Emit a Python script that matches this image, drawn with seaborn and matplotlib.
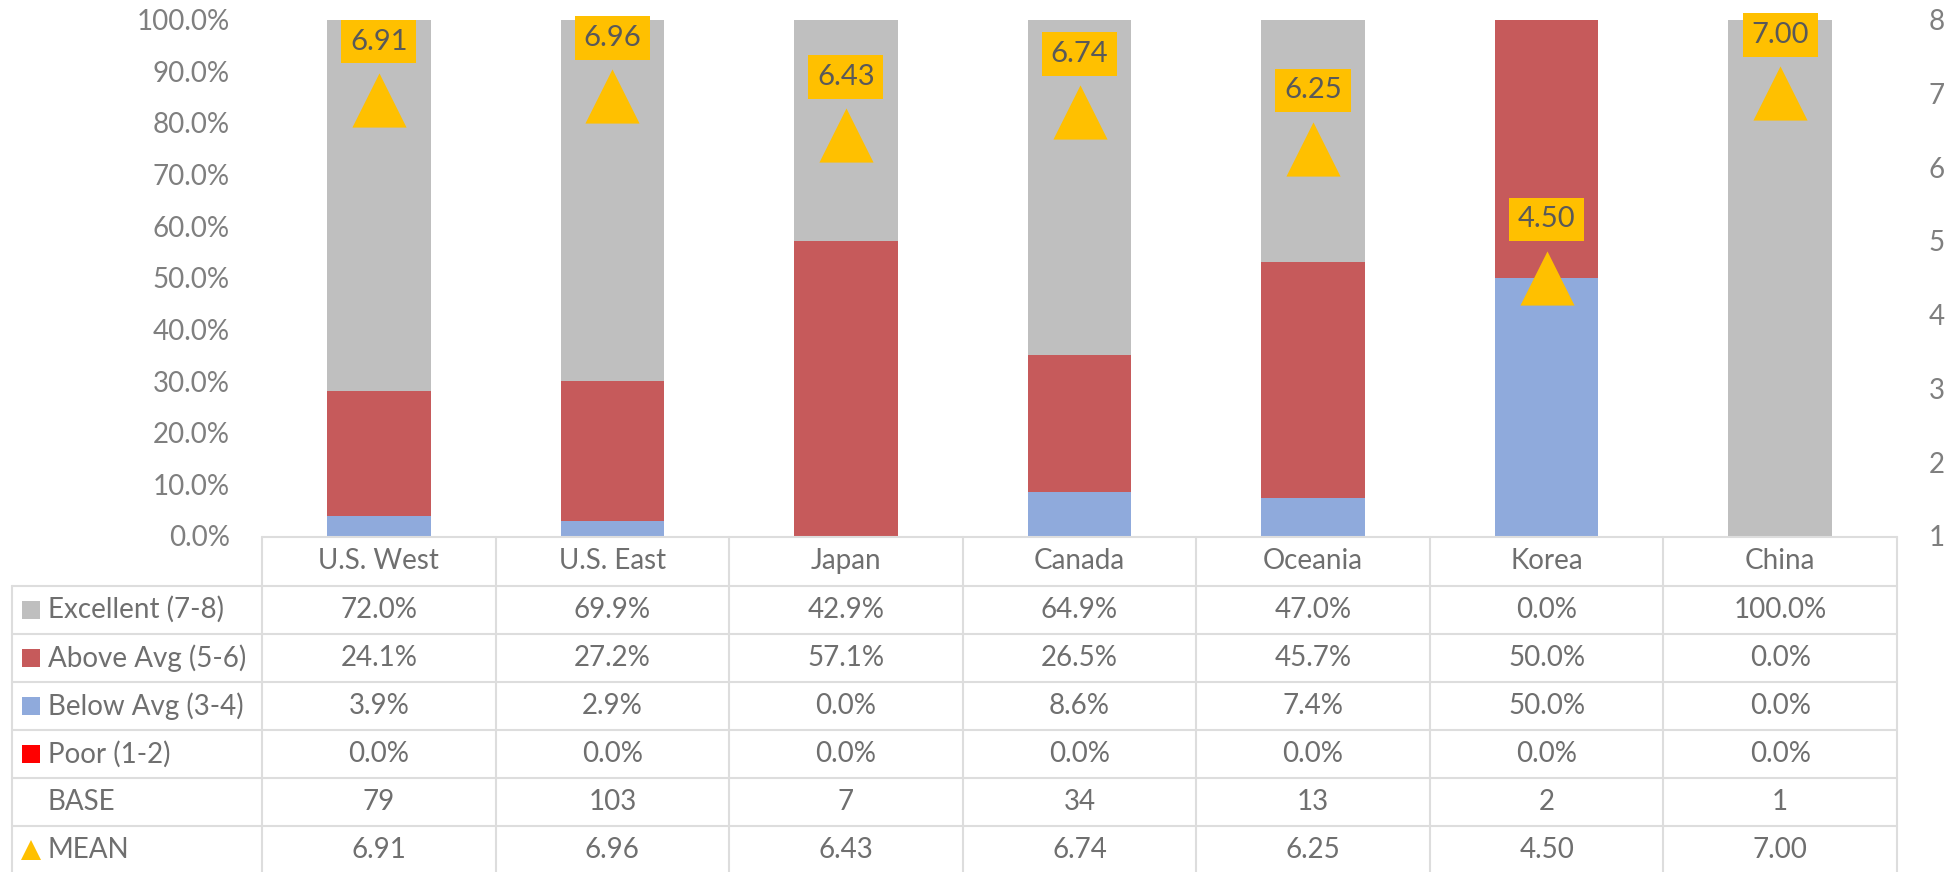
"""
Stacked rating distribution by region with mean markers and a data table.
"""

import numpy as np
import pandas as pd
import seaborn as sns
import matplotlib.pyplot as plt
from matplotlib.patches import Rectangle

REGIONS = ["U.S. West", "U.S. East", "Japan", "Canada", "Oceania", "Korea", "China"]

EXCELLENT = [72.0, 69.9, 42.9, 64.9, 47.0, 0.0, 100.0]
ABOVE_AVG = [24.1, 27.2, 57.1, 26.5, 45.7, 50.0, 0.0]
BELOW_AVG = [3.9, 2.9, 0.0, 8.6, 7.4, 50.0, 0.0]
POOR = [0.0, 0.0, 0.0, 0.0, 0.0, 0.0, 0.0]
BASE = [79, 103, 7, 34, 13, 2, 1]
MEAN = [6.91, 6.96, 6.43, 6.74, 6.25, 4.50, 7.00]

SERIES_LABELS = ["Excellent (7-8)", "Above Avg (5-6)", "Below Avg (3-4)", "Poor (1-2)"]
SERIES_COLORS = ["#BFBFBF", "#C65A5B", "#8FAADC", "#FF0000"]
MEAN_COLOR = "#FFC000"

TICK_GRAY = "#7F7F7F"
TEXT_GRAY = "#6F6F6F"
LINE_GRAY = "#DDDDDD"

W, H = 1954, 872
AX_LEFT, AX_RIGHT, AX_TOP, AX_BOTTOM = 262, 1897, 19.5, 536


def draw_chart() -> None:
    sns.set_style("white")
    plt.rcParams["font.family"] = ["Lato", "DejaVu Sans"]

    fig = plt.figure(figsize=(W / 100, H / 100), dpi=100)
    ax = fig.add_axes([AX_LEFT / W, 1 - AX_BOTTOM / H,
                       (AX_RIGHT - AX_LEFT) / W, (AX_BOTTOM - AX_TOP) / H])

    # stacked bars: draw cumulative totals from the top down
    df = pd.DataFrame({
        "Region": REGIONS,
        "Excellent": EXCELLENT,
        "Above": ABOVE_AVG,
        "Below": BELOW_AVG,
        "Poor": POOR,
    })
    stack_cols = ["Excellent", "Above", "Below", "Poor"]
    for i, col in enumerate(stack_cols):
        cum = df[stack_cols[i:]].sum(axis=1)
        sns.barplot(x=df["Region"], y=cum, order=REGIONS, color=SERIES_COLORS[i],
                    width=0.443, saturation=1, ax=ax, linewidth=0)

    ax.set_xlim(-0.5, len(REGIONS) - 0.5)
    ax.set_ylim(0, 100)
    ax.set_yticks(np.arange(0, 101, 10))
    ax.set_yticklabels([f"{v:.1f}%" for v in np.arange(0, 101, 10)])
    ax.tick_params(axis="y", labelsize=20, colors=TICK_GRAY, length=0, pad=23)
    ax.set_xticks([])
    ax.set_xlabel("")
    ax.set_ylabel("")
    sns.despine(ax=ax, left=True, bottom=True)

    # mean markers on secondary axis
    ax2 = ax.twinx()
    positions = np.arange(len(REGIONS))
    sns.scatterplot(x=positions, y=MEAN, marker="^", s=39 ** 2, color=MEAN_COLOR,
                    linewidth=0, ax=ax2, zorder=5)
    ax2.set_ylim(1, 8)
    ax2.set_yticks(range(1, 9))
    ax2.tick_params(axis="y", labelsize=20, colors=TICK_GRAY, length=0, pad=23)
    for spine in ax2.spines.values():
        spine.set_visible(False)
    ax2.grid(False)
    for xp, m in zip(positions, MEAN):
        ax2.annotate(f"{m:.2f}", (xp, m), xytext=(0, 42), textcoords="offset points",
                     ha="center", va="center", fontsize=21, color="#595959",
                     bbox=dict(boxstyle="square,pad=0.3", facecolor=MEAN_COLOR,
                               edgecolor="none"), zorder=6)

    # data table below the chart, drawn in pixel coordinates
    tab = fig.add_axes([0, 0, 1, 1])
    tab.set_xlim(0, W)
    tab.set_ylim(H, 0)
    tab.axis("off")

    col_w = (AX_RIGHT - AX_LEFT) / len(REGIONS)
    row_top = 585.7
    row_h = 48.06
    n_rows = 6
    lw = 1.5

    # header row
    tab.plot([AX_LEFT, AX_RIGHT], [537, 537], color=LINE_GRAY, lw=lw)
    for k in range(len(REGIONS) + 1):
        xk = AX_LEFT + k * col_w
        tab.plot([xk, xk], [537, H], color=LINE_GRAY, lw=lw)
    tab.plot([12, 12], [row_top, H], color=LINE_GRAY, lw=lw)
    for r in range(n_rows):
        yr = row_top + r * row_h
        tab.plot([12, AX_RIGHT], [yr, yr], color=LINE_GRAY, lw=lw)

    for k, region in enumerate(REGIONS):
        tab.text(AX_LEFT + (k + 0.5) * col_w, 561, region, ha="center", va="center",
                 fontsize=20, color=TEXT_GRAY)

    row_values = [
        [f"{v:.1f}%" for v in EXCELLENT],
        [f"{v:.1f}%" for v in ABOVE_AVG],
        [f"{v:.1f}%" for v in BELOW_AVG],
        [f"{v:.1f}%" for v in POOR],
        [str(v) for v in BASE],
        [f"{v:.2f}" for v in MEAN],
    ]
    row_labels = SERIES_LABELS + ["BASE", "MEAN"]

    for r in range(n_rows):
        yc = row_top + (r + 0.5) * row_h
        if r < 4:
            tab.add_patch(Rectangle((22, yc - 9), 18, 18, facecolor=SERIES_COLORS[r],
                                    edgecolor="none"))
        elif r == 5:
            tab.plot([31], [yc], marker="^", ms=14, color=MEAN_COLOR, mew=0)
        tab.text(48, yc, row_labels[r], ha="left", va="center", fontsize=20,
                 color=TEXT_GRAY)
        for k, val in enumerate(row_values[r]):
            tab.text(AX_LEFT + (k + 0.5) * col_w, yc, val, ha="center", va="center",
                     fontsize=20, color=TEXT_GRAY)

    fig.savefig("out.png", dpi=100)


if __name__ == "__main__":
    draw_chart()
